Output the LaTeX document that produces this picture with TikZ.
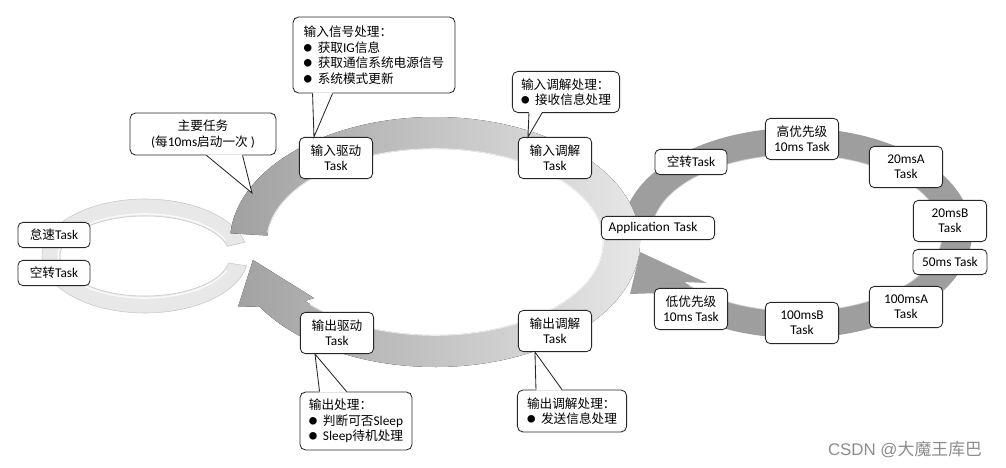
\documentclass[tikz,border=0pt]{standalone}
\usepackage{fontspec}
\setmainfont{Carlito}
\newfontfamily\cjk{Noto Sans CJK SC}
\newfontfamily\wmfont{Liberation Sans}
\usetikzlibrary{calc}

\tikzset{
  task/.style={draw=black!85, line width=0.6pt, fill=white, rounded corners=3.5pt,
    align=center, inner sep=1pt, minimum width=1.83cm, minimum height=1.03cm,
    font=\fontsize{9.5}{10.5}\selectfont},
  task1/.style={task, minimum width=1.8cm, minimum height=0.63cm},
  callout/.style={draw=black!85, line width=0.6pt, fill=white, rounded corners=4pt,
    align=left, inner sep=1pt, font=\fontsize{9.5}{11}\selectfont},
  pointer/.style={draw=black!85, line width=0.6pt},
  shine/.style={white, line width=1.1pt, opacity=0.7},
}
\newcommand{\zh}[1]{{\cjk\fontsize{9}{10}\selectfont #1}}
\newcommand{\blt}{\raisebox{0.6pt}{\cjk\fontsize{6}{6}\selectfont ●}\hspace{4pt}}

\begin{document}
\begin{tikzpicture}[x=0.025cm, y=-0.025cm]
\useasboundingbox (0,0) rectangle (1006,467);

% idle loop on the left
\coordinate (lc) at (145,256);
\filldraw[fill=black!9, draw=black!22, line width=0.4pt]
  ($(lc)+({103*cos(10)},{57*sin(10)})$) arc[start angle=10, end angle=346, x radius=103, y radius=57]
  -- ($(lc)+({85*cos(346)},{40*sin(346)})$) arc[start angle=346, end angle=10, x radius=85, y radius=40] -- cycle;
\draw[shine] ($(lc)+({87*cos(20)},{42*sin(20)})$) arc[start angle=20, end angle=338, x radius=87, y radius=42];

% application loop on the right
\coordinate (rc) at (797,233);
\fill[black!38]
  ($(rc)+({175*cos(180)},{105*sin(180)})$) arc[start angle=180, end angle=505, x radius=175, y radius=105]
  -- (630,294) -- (640,252) -- (707,283)
  -- ($(rc)+({145*cos(501)},{78*sin(501)})$) arc[start angle=501, end angle=180, x radius=145, y radius=78] -- cycle;
\draw[shine, opacity=0.5] ($(rc)+({145*cos(188)},{78*sin(188)})$) arc[start angle=188, end angle=498, x radius=145, y radius=78];

% main loop
\coordinate (mc) at (435,242);
\fill[left color=black!37, right color=black!9]
  ($(mc)+({205*cos(184)},{125*sin(184)})$) arc[start angle=184, end angle=509, x radius=205, y radius=125]
  -- (238,307) -- (253,260) -- (314,298)
  -- ($(mc)+({168*cos(500.6)},{93*sin(500.6)})$) arc[start angle=500.6, end angle=184, x radius=168, y radius=93] -- cycle;
\draw[shine] ($(mc)+({168*cos(186)},{93*sin(186)})$) arc[start angle=186, end angle=498, x radius=168, y radius=93];

% tasks
\node[task1] (idle) at (54,235) {\zh{怠速}Task};
\node[task1] (spinL) at (54,273) {\zh{空转}Task};
\node[task] (indrv) at (336,158) {\zh{输入驱动}\\Task};
\node[task] (indem) at (555,158) {\zh{输入调解}\\Task};
\node[task] (outdrv) at (337,333) {\zh{输出驱动}\\Task};
\node[task] (outdem) at (555,331) {\zh{输出调解}\\Task};
\node[task1, minimum width=2.83cm, minimum height=0.58cm, text width=2.47cm,
  align=left, inner xsep=0.18cm] (app) at (658,228) {Application Task};
\node[task1] (spinR) at (691,162) {\zh{空转}Task};
\node[task] (hi10) at (802,139) {\zh{高优先级}\\10ms Task};
\node[task] (a20) at (906,167) {20msA\\Task};
\node[task] (b20) at (950,221) {20msB\\Task};
\node[task1, minimum width=1.85cm] (t50) at (950,262) {50ms Task};
\node[task] (a100) at (906,307) {100msA\\Task};
\node[task] (b100) at (802,323) {100msB\\Task};
\node[task] (lo10) at (691,309) {\zh{低优先级}\\10ms Task};

% callouts
\node[callout, align=center, minimum width=3.65cm, minimum height=1.05cm] (mainco) at (203,134)
  {\zh{主要任务}\\(\zh{每}10ms\zh{启动一次} )};
\node[callout, minimum width=4.05cm, minimum height=1.9cm] (sigco) at (374,55)
  {\zh{输入信号处理：}\\\blt \zh{获取}IG\zh{信息}\\\blt \zh{获取通信系统电源信号}\\\blt \zh{系统模式更新}};
\node[callout, minimum width=2.68cm, minimum height=1.03cm] (demco) at (566,92)
  {\zh{输入调解处理：}\\\blt \zh{接收信息处理}};
\node[callout, minimum width=2.8cm, minimum height=1.45cm] (outco) at (356,421)
  {\zh{输出处理：}\\\blt \zh{判断可否}Sleep\\\blt Sleep\zh{待机处理}};
\node[callout, minimum width=2.73cm, minimum height=1.05cm] (odco) at (572,411)
  {\zh{输出调解处理：}\\\blt \zh{发送信息处理}};

% pointers
\coordinate (maintip) at (252,193);
\coordinate (sigtip) at ($(indrv.north west)+(15,0)$);
\coordinate (demtip) at ($(indem.north west)+(10,0)$);
\coordinate (outtip) at ($(outdrv.south west)+(15,0)$);
\coordinate (odtip) at ($(outdem.south west)+(17,0)$);

\fill[white] ($(mainco.south west)+(77,-1)$) -- (maintip) -- ($(mainco.south west)+(113,-1)$) -- cycle;
\draw[pointer] ($(mainco.south west)+(77,0)$) -- (maintip) -- ($(mainco.south west)+(113,0)$);
\fill[white] ($(sigco.south west)+(20,-1)$) -- (sigtip) -- ($(sigco.south west)+(40,-1)$) -- cycle;
\draw[pointer] ($(sigco.south west)+(20,0)$) -- (sigtip) -- ($(sigco.south west)+(40,0)$);
\fill[white] ($(demco.south west)+(17,-1)$) -- (demtip) -- ($(demco.south west)+(30,-1)$) -- cycle;
\draw[pointer] ($(demco.south west)+(17,0)$) -- (demtip) -- ($(demco.south west)+(30,0)$);
\fill[white] ($(outco.north west)+(20,1)$) -- (outtip) -- ($(outco.north west)+(47,1)$) -- cycle;
\draw[pointer] ($(outco.north west)+(20,0)$) -- (outtip) -- ($(outco.north west)+(47,0)$);
\fill[white] ($(odco.north west)+(19,1)$) -- (odtip) -- ($(odco.north west)+(45,1)$) -- cycle;
\draw[pointer] ($(odco.north west)+(19,0)$) -- (odtip) -- ($(odco.north west)+(45,0)$);

\node[text=black!45, font=\fontsize{12}{12}\selectfont] (wm) at (905,450) {{\wmfont CSDN @}{\cjk 大魔王库巴}};
\end{tikzpicture}
\end{document}
